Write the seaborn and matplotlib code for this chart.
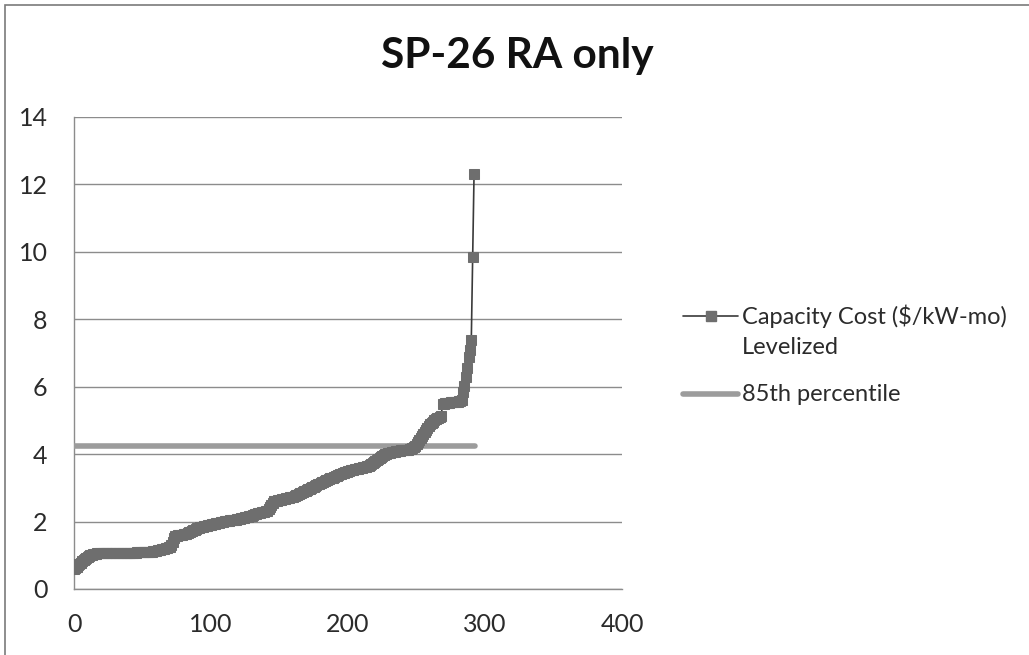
import numpy as np
import pandas as pd
import seaborn as sns
import matplotlib
matplotlib.use("Agg")
import matplotlib.pyplot as plt
from matplotlib.lines import Line2D
from matplotlib.patches import Rectangle

# ---- data ----
capacity_cost = [
    0.58, 0.62, 0.66, 0.70, 0.74, 0.78, 0.82, 0.86, 0.90, 0.93,
    0.96, 0.98, 1.00, 1.02, 1.03, 1.04, 1.05, 1.06, 1.07, 1.08,
    1.08, 1.08, 1.08, 1.08, 1.08, 1.08, 1.08, 1.08, 1.08, 1.08,
    1.08, 1.08, 1.08, 1.08, 1.08, 1.08, 1.08, 1.08, 1.08, 1.08,
    1.08, 1.08, 1.08, 1.08, 1.08, 1.08, 1.09, 1.09, 1.09, 1.09,
    1.09, 1.09, 1.10, 1.10, 1.10, 1.10, 1.11, 1.11, 1.12, 1.13,
    1.14, 1.15, 1.16, 1.17, 1.18, 1.19, 1.20, 1.21, 1.22, 1.24,
    1.26, 1.30, 1.40, 1.50, 1.56, 1.58, 1.59, 1.60, 1.60, 1.61,
    1.62, 1.63, 1.64, 1.66, 1.68, 1.70, 1.72, 1.74, 1.76, 1.78,
    1.80, 1.82, 1.83, 1.84, 1.85, 1.86, 1.87, 1.88, 1.89, 1.90,
    1.91, 1.92, 1.93, 1.94, 1.95, 1.96, 1.97, 1.98, 1.99, 2.00,
    2.01, 2.02, 2.03, 2.03, 2.04, 2.04, 2.05, 2.05, 2.06, 2.07,
    2.08, 2.09, 2.10, 2.11, 2.12, 2.13, 2.14, 2.15, 2.16, 2.17,
    2.18, 2.20, 2.21, 2.22, 2.24, 2.25, 2.26, 2.27, 2.28, 2.29,
    2.30, 2.32, 2.36, 2.42, 2.50, 2.56, 2.60, 2.61, 2.62, 2.63,
    2.64, 2.65, 2.66, 2.67, 2.68, 2.69, 2.70, 2.71, 2.72, 2.73,
    2.74, 2.76, 2.78, 2.80, 2.82, 2.84, 2.86, 2.88, 2.90, 2.92,
    2.94, 2.96, 2.98, 3.00, 3.02, 3.04, 3.06, 3.08, 3.10, 3.12,
    3.14, 3.16, 3.18, 3.20, 3.22, 3.24, 3.26, 3.28, 3.29, 3.30,
    3.32, 3.34, 3.36, 3.38, 3.40, 3.42, 3.43, 3.44, 3.46, 3.48,
    3.50, 3.51, 3.52, 3.53, 3.54, 3.55, 3.56, 3.57, 3.58, 3.59,
    3.60, 3.61, 3.62, 3.63, 3.64, 3.66, 3.68, 3.70, 3.73, 3.76,
    3.79, 3.82, 3.85, 3.88, 3.91, 3.94, 3.97, 3.99, 4.01, 4.02,
    4.03, 4.04, 4.05, 4.06, 4.07, 4.08, 4.09, 4.10, 4.10, 4.11,
    4.11, 4.12, 4.12, 4.13, 4.13, 4.14, 4.15, 4.17, 4.20, 4.24,
    4.30, 4.36, 4.42, 4.48, 4.54, 4.60, 4.66, 4.72, 4.78, 4.84,
    4.88, 4.92, 4.96, 5.00, 5.04, 5.06, 5.08, 5.10, 5.12, 5.50,
    5.50, 5.52, 5.52, 5.53, 5.53, 5.54, 5.54, 5.55, 5.55, 5.56,
    5.56, 5.57, 5.58, 5.60, 5.85, 6.03, 6.30, 6.55, 6.87, 7.10,
    7.39, 9.84, 12.31,
]
percentile_x = [0, 293]
percentile_y = [4.24, 4.24]

title = "SP-26 RA only"
series_label_1 = "Capacity Cost ($/kW-mo)"
series_label_2 = "Levelized"
percentile_label = "85th percentile"
x_ticks = [0, 100, 200, 300, 400]
y_ticks = [0, 2, 4, 6, 8, 10, 12, 14]

W, H = 1029, 655
SERIES_LINE = "#3a3a3a"
SERIES_MARK = "#6e6e6e"
PCT_COLOR = "#9c9c9c"
GRID = "#8c8c8c"
TXT = "#2b2b2b"

# ---- figure ----
sns.set_theme(style="white")
plt.rcParams["font.family"] = ["Lato", "DejaVu Sans"]

fig = plt.figure(figsize=(W / 100, H / 100), dpi=100)
ax = fig.add_axes([74 / W, 1 - 589 / H, (622 - 74) / W, (589 - 117) / H])

# figure border (top and left edges visible)
fig.patches.append(Rectangle((5 / W, -0.05), 1.2, 1 - 5 / H + 0.05,
                             transform=fig.transFigure, fill=False,
                             edgecolor="#7a7a7a", linewidth=1.2, zorder=0))

df = pd.DataFrame({"x": np.arange(len(capacity_cost)), "y": capacity_cost})
pdf = pd.DataFrame({"x": percentile_x, "y": percentile_y})

sns.lineplot(data=pdf, x="x", y="y", ax=ax, color=PCT_COLOR, linewidth=4,
             zorder=3)
sns.lineplot(data=df, x="x", y="y", ax=ax, color=SERIES_LINE, linewidth=1.2,
             marker="s", markersize=6.5, markerfacecolor=SERIES_MARK,
             markeredgecolor=SERIES_MARK, zorder=4)

ax.set_xlim(0, 400)
ax.set_ylim(0, 14)
ax.set_xticks(x_ticks)
ax.set_yticks(y_ticks)
ax.set_xlabel("")
ax.set_ylabel("")
ax.grid(axis="y", color=GRID, linewidth=1.0)
ax.set_axisbelow(True)
for s in ["top", "right"]:
    ax.spines[s].set_visible(False)
for s in ["left", "bottom"]:
    ax.spines[s].set_color(GRID)
    ax.spines[s].set_linewidth(1.0)
ax.tick_params(axis="both", which="major", direction="out", length=5,
               width=1.0, color=GRID, labelsize=18, labelcolor=TXT)
ax.tick_params(axis="x", pad=12)
ax.tick_params(axis="y", pad=14)

fig.text(517 / W, 1 - 56 / H, title, ha="center", va="center", fontsize=30.5,
         fontweight="bold", color="#111111")

# legend (drawn in figure pixel positions)
def fy(py):
    return 1 - py / H

fig.add_artist(Line2D([683 / W, 738 / W], [fy(316), fy(316)],
                      transform=fig.transFigure, color=SERIES_LINE,
                      linewidth=1.2))
fig.add_artist(Line2D([710.5 / W], [fy(316)], transform=fig.transFigure,
                      marker="s", markersize=6.5, color=SERIES_MARK,
                      linestyle="none"))
fig.add_artist(Line2D([683 / W, 738 / W], [fy(394), fy(394)],
                      transform=fig.transFigure, color=PCT_COLOR,
                      linewidth=4))
fig.text(742 / W, fy(316), series_label_1, ha="left", va="center",
         fontsize=17, color=TXT)
fig.text(742 / W, fy(348), series_label_2, ha="left", va="center",
         fontsize=17, color=TXT)
fig.text(742 / W, fy(394), percentile_label, ha="left", va="center",
         fontsize=17, color=TXT)

fig.savefig("out.png", dpi=100)
